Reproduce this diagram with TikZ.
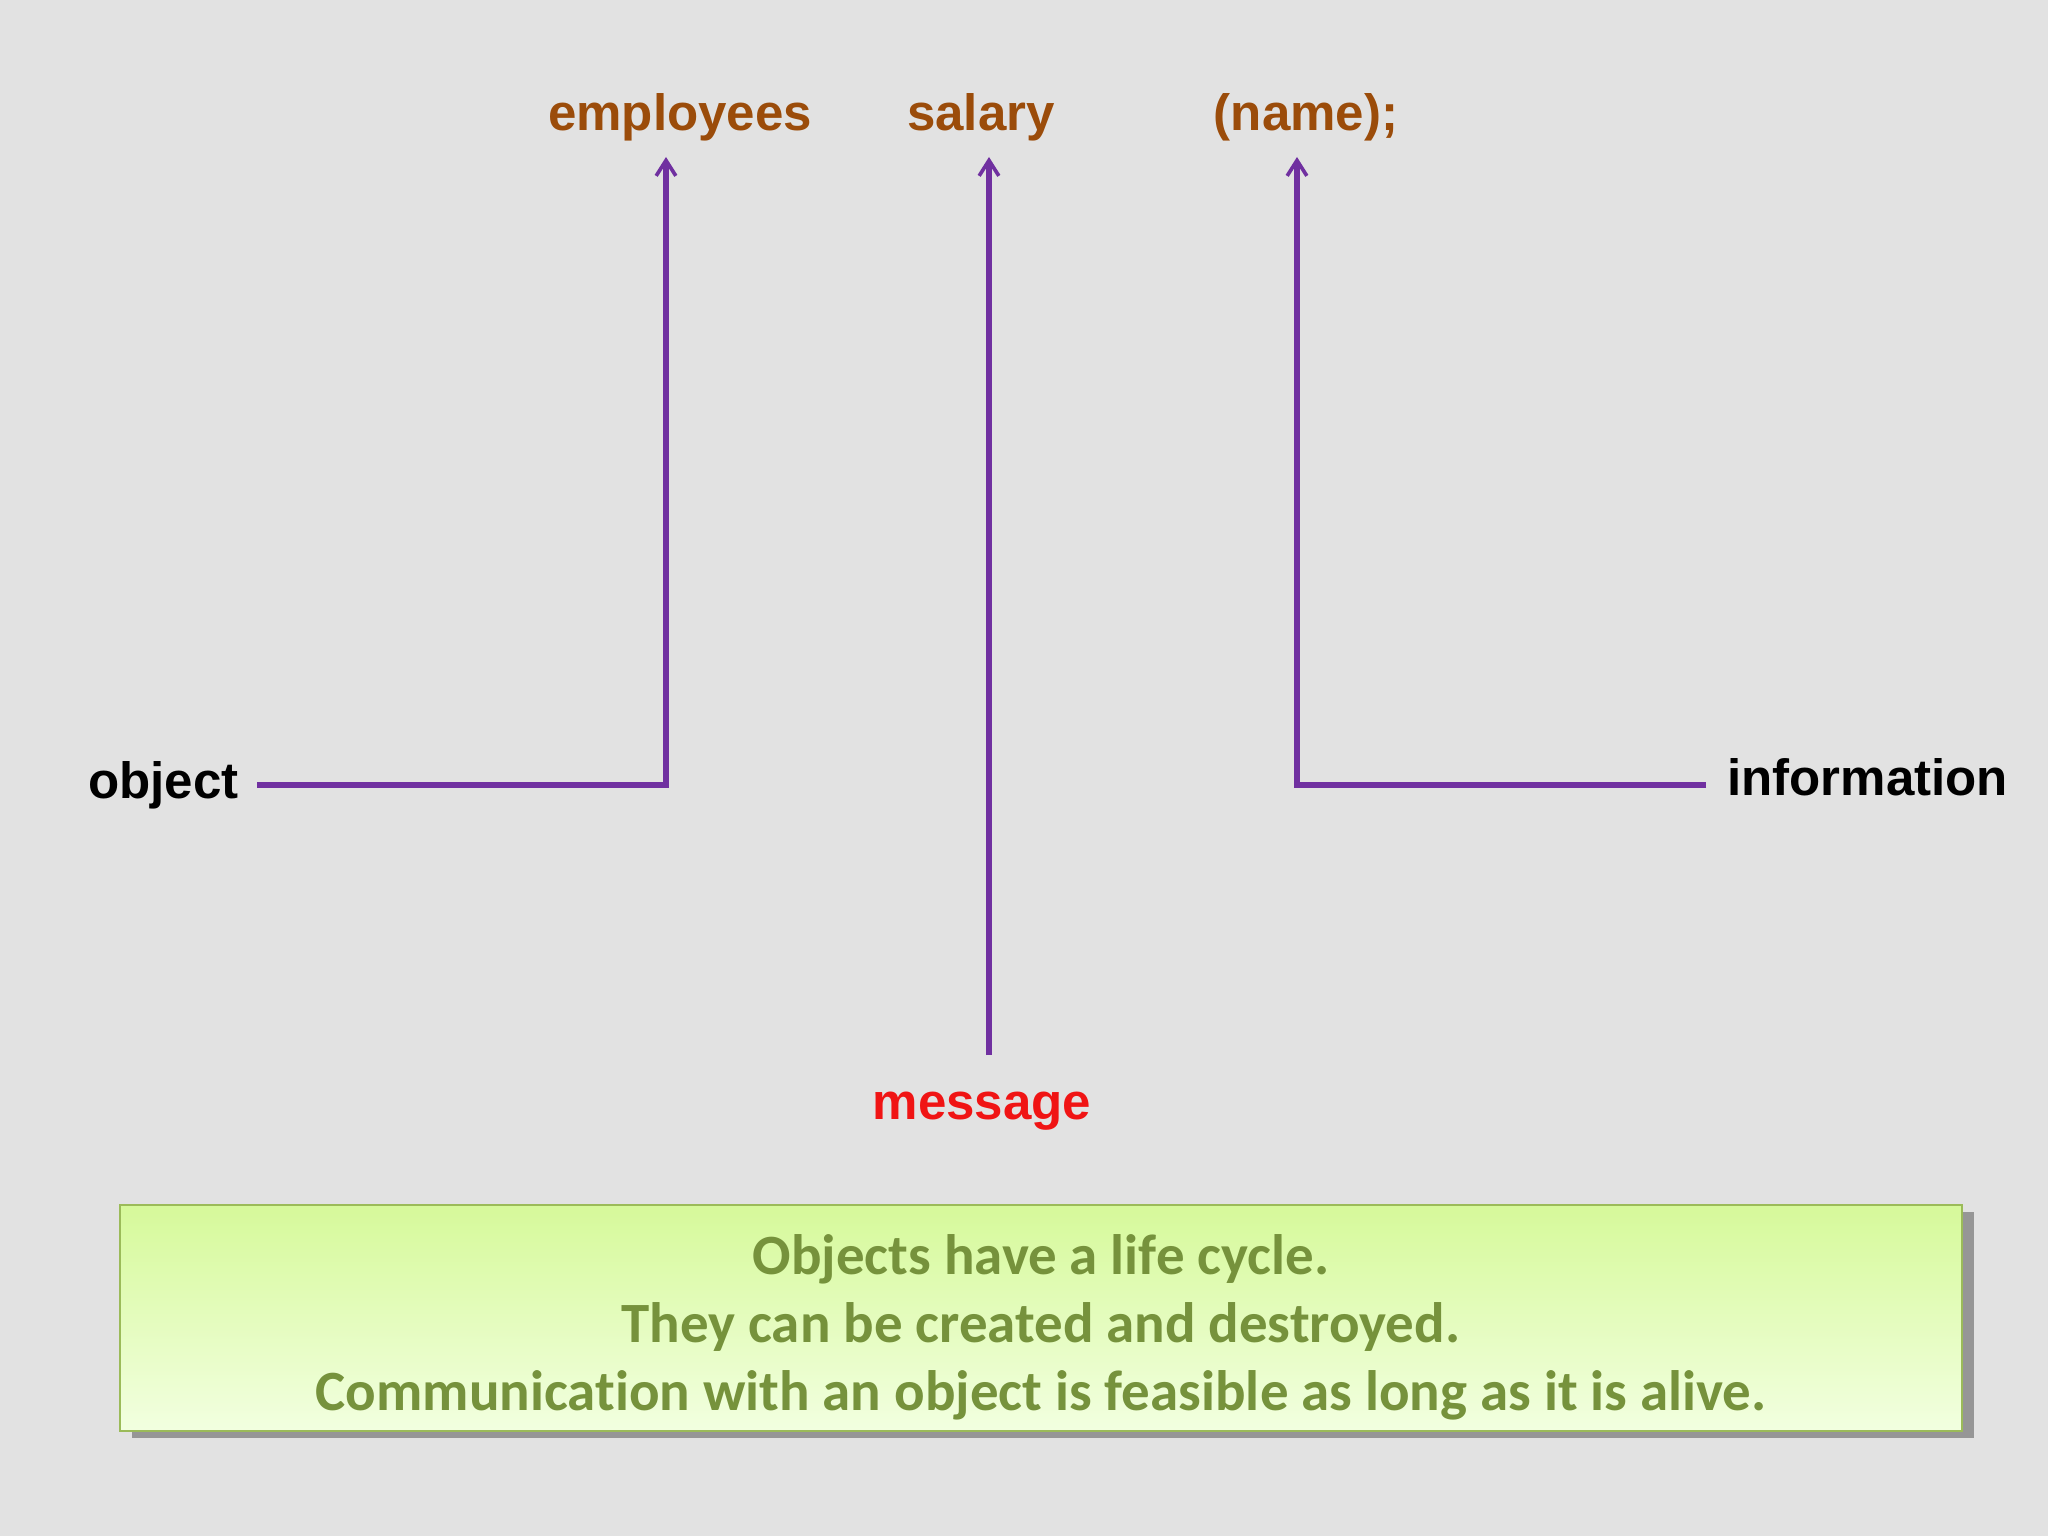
\documentclass[tikz,border=0pt]{standalone}
\usepackage{fontspec}
\setmainfont{Liberation Sans}
\newfontfamily\calfont{Carlito}[Ligatures=NoCommon]
\usetikzlibrary{arrows.meta}
\definecolor{bgc}{RGB}{226,226,226}
\definecolor{linec}{RGB}{112,48,160}
\definecolor{brownc}{RGB}{155,76,10}
\definecolor{olivec}{RGB}{118,146,60}
\definecolor{boxtop}{RGB}{214,249,154}
\definecolor{boxbot}{RGB}{242,255,224}
\definecolor{boxline}{RGB}{155,187,89}
\definecolor{shadowc}{RGB}{150,150,150}
\definecolor{msgc}{RGB}{240,20,20}
\tikzset{
  lbl/.style={font=\fontsize{36.3}{43}\selectfont\bfseries, inner sep=0pt},
  toplbl/.style={lbl, text=brownc},
  conn/.style={draw=linec, line width=4pt,
    -{Straight Barb[length=11pt,width=14pt,line width=2.6pt]}},
  infobox/.style={font=\calfont\fontsize{40.5}{48.4}\selectfont\bfseries,
    text=olivec, align=center}
}
\begin{document}
\begin{tikzpicture}[x=0.025cm,y=-0.025cm]
\fill[bgc] (0,0) rectangle (2048,1536);
\useasboundingbox (0,0) rectangle (2048,1536);

% top labels
\node[toplbl] (employees) at (680,117) {employees};
\node[toplbl] (salary) at (981,117) {salary};
\node[toplbl] (name) at (1306,117) {(name);};

% side labels
\node[lbl, anchor=east, inner xsep=13pt] (object) at (257,785) {object};
\node[lbl, anchor=west, inner xsep=15pt, yshift=5.5pt] (information) at (1706,785) {information};
\node[lbl, anchor=north, inner xsep=0pt, inner ysep=26pt, text=msgc] (message) at (982,1055) {message};

% arrow tips
\coordinate (tip1) at (666,157);
\coordinate (tip2) at (989,157);
\coordinate (tip3) at (1297,157);

% connectors
\draw[conn] (object.east) -| (tip1);
\draw[conn] (message.north -| tip2) -- (tip2);
\draw[conn] (information.west |- 0,785) -| (tip3);

% box
\fill[shadowc] (132,1212) rectangle (1974,1438);
\shade[top color=boxtop, bottom color=boxbot] (120,1205) rectangle (1962,1431);
\draw[boxline, line width=1.4pt] (120,1205) rectangle (1962,1431);
\node[infobox] (note) at (1041,1327) {Objects have a life cycle.\\They can be created and destroyed.\\Communication with an object is feasible as long as it is alive.};
\end{tikzpicture}
\end{document}
